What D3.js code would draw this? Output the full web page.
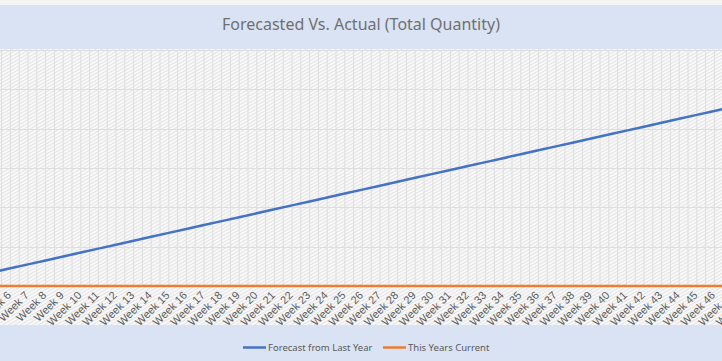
<!DOCTYPE html>
<html>
<head>
<meta charset="utf-8">
<script src="https://cdn.jsdelivr.net/npm/d3@7"></script>
<style>
  html, body { margin: 0; padding: 0; background: #fff; overflow: hidden; }
  svg { display: block; font-family: "Noto Sans", "Open Sans", sans-serif; }
</style>
</head>
<body>
<div id="chart"></div>
<script>
// data (the chart is cropped at both sides)
var weeks = ["Week 1","Week 2","Week 3","Week 4","Week 5","Week 6","Week 7","Week 8","Week 9","Week 10",
  "Week 11","Week 12","Week 13","Week 14","Week 15","Week 16","Week 17","Week 18","Week 19","Week 20",
  "Week 21","Week 22","Week 23","Week 24","Week 25","Week 26","Week 27","Week 28","Week 29","Week 30",
  "Week 31","Week 32","Week 33","Week 34","Week 35","Week 36","Week 37","Week 38","Week 39","Week 40",
  "Week 41","Week 42","Week 43","Week 44","Week 45","Week 46","Week 47","Week 48","Week 49","Week 50",
  "Week 51","Week 52"];
var forecastLastYear = [0, 2.5, 7.5, 12.5, 17.5, 22.5, 27.5, 32.5, 37.5, 42.5,
  47.5, 52.5, 57.5, 62.5, 67.5, 72.5, 77.5, 82.5, 87.5, 92.5,
  97.5, 102.5, 107.5, 112.5, 117.5, 122.5, 127.5, 132.5, 137.5, 142.5,
  147.5, 152.5, 157.5, 162.5, 167.5, 172.5, 177.5, 182.5, 187.5, 192.5,
  197.5, 202.5, 207.5, 212.5, 217.5, 222.5, 227.5, 232.5, 237.5, 242.5,
  247.5, 252.5];
var thisYearCurrent = [0,0,0,0,0,0,0,0,0,0, 0,0,0,0,0,0,0,0,0,0, 0,0,0,0,0,0,0,0,0,0,
  0,0,0,0,0,0,0,0,0,0, 0,0,0,0,0,0,0,0,0,0, 0,0];
var yTicks = [0, 50, 100, 150, 200, 250, 300];
var seriesNames = ["Forecast from Last Year", "This Years Current"];
var seriesColors = ["#4472C4", "#ED7D31"];
var title = "Forecasted Vs. Actual (Total Quantity)";

var width = 722, height = 361;
var plotTop = 50, plotBottom = 286;
var step = 17.6;

var svg = d3.select('#chart').append('svg').attr('width', width).attr('height', height);

// hatch pattern for chart area
var defs = svg.append('defs');
var pat = defs.append('pattern').attr('id', 'hatch')
  .attr('patternUnits', 'userSpaceOnUse').attr('width', 3).attr('height', 3)
  .attr('patternTransform', 'rotate(-30)');
pat.append('rect').attr('width', 3).attr('height', 3).attr('fill', '#fbfbfb');
pat.append('rect').attr('width', 3).attr('height', 1.2).attr('fill', '#e4e4e4');

// backgrounds
svg.append('rect').attr('width', width).attr('height', height).attr('fill', '#f4f4f4');
svg.append('rect').attr('x', 0).attr('y', 5).attr('width', width).attr('height', 44).attr('fill', '#DAE3F3');
svg.append('rect').attr('x', 0).attr('y', 49).attr('width', width).attr('height', 276).attr('fill', 'url(#hatch)');
svg.append('rect').attr('x', 0).attr('y', 325).attr('width', width).attr('height', 36).attr('fill', '#DAE3F3');

// scales
var x = d3.scalePoint().domain(weeks)
  .range([28 - 6 * step, 28 + 45 * step]);
var y = d3.scaleLinear().domain([0, 300]).range([plotBottom, plotTop]);

var grid = svg.append('g').attr('stroke', '#dedede').attr('stroke-width', 1);
grid.selectAll('line.h').data(yTicks.slice(1)).enter().append('line')
  .attr('x1', 0).attr('x2', width)
  .attr('y1', function(d){ return Math.round(y(d)) + 0.5; })
  .attr('y2', function(d){ return Math.round(y(d)) + 0.5; });
grid.selectAll('line.v').data(weeks).enter().append('line')
  .attr('x1', function(d){ return x(d); }).attr('x2', function(d){ return x(d); })
  .attr('y1', plotTop).attr('y2', plotBottom);
grid.selectAll('line.m').data(weeks).enter().append('line')
  .attr('x1', function(d){ return x(d) + step / 2; }).attr('x2', function(d){ return x(d) + step / 2; })
  .attr('y1', plotTop).attr('y2', plotBottom);

// x axis labels (only those that fall inside the cropped view)
var xAxis = d3.axisBottom(x).tickSize(0).tickPadding(0)
  .tickValues(weeks.filter(function(d){ return x(d) > 0; }));
var gx = svg.append('g').attr('transform', 'translate(0,' + plotBottom + ')').call(xAxis);
gx.select('.domain').remove();
gx.selectAll('text')
  .attr('fill', '#5e5e5e').attr('font-size', 11)
  .attr('text-anchor', 'end').attr('dy', null).attr('y', 0)
  .attr('transform', 'translate(1,10) rotate(-45)');

// lines
var line = d3.line().x(function(d, i){ return x(weeks[i]); }).y(function(d){ return y(d); });
svg.append('path').datum(thisYearCurrent).attr('d', line)
  .attr('fill', 'none').attr('stroke', seriesColors[1]).attr('stroke-width', 2.5);
svg.append('path').datum(forecastLastYear).attr('d', line)
  .attr('fill', 'none').attr('stroke', seriesColors[0]).attr('stroke-width', 2.5);

// title
svg.append('text').attr('x', 361).attr('y', 30).attr('text-anchor', 'middle')
  .attr('fill', '#707070').attr('font-size', 16).text(title);

// legend
var legendX = [243, 383];
var lg = svg.selectAll('g.legend').data(seriesNames).enter().append('g')
  .attr('transform', function(d, i){ return 'translate(' + legendX[i] + ',347.5)'; });
lg.append('line').attr('x1', 0).attr('x2', 23)
  .attr('stroke', function(d, i){ return seriesColors[i]; }).attr('stroke-width', 2.5);
lg.append('text').attr('x', 25).attr('dy', '0.35em').attr('fill', '#595959')
  .attr('font-size', 9.5).text(function(d){ return d; });
</script>
</body>
</html>
